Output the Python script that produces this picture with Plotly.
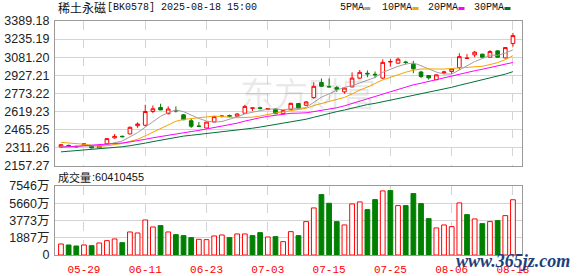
import plotly.graph_objects as go
import pandas as pd

# ---------------- data ----------------
dates = ["05-26", "05-27", "05-28", "05-29", "05-30", "06-03", "06-04", "06-05", "06-06", "06-09",
         "06-10", "06-11", "06-12", "06-13", "06-16", "06-17", "06-18", "06-19", "06-20", "06-23",
         "06-24", "06-25", "06-26", "06-27", "06-30", "07-01", "07-02", "07-03", "07-04", "07-07",
         "07-08", "07-09", "07-10", "07-11", "07-14", "07-15", "07-16", "07-17", "07-18", "07-21",
         "07-22", "07-23", "07-24", "07-25", "07-28", "07-29", "07-30", "07-31", "08-01", "08-04",
         "08-05", "08-06", "08-07", "08-08", "08-11", "08-12", "08-13", "08-14", "08-15", "08-18"]

open_ = [2317, 2330, 2322, 2337, 2326, 2309, 2343, 2394, 2408, 2428,
         2498, 2502, 2619, 2653, 2600, 2628, 2590, 2540, 2495, 2478,
         2530, 2576, 2584, 2578, 2604, 2646, 2650, 2635, 2640, 2600,
         2637, 2687, 2672, 2737, 2866, 2832, 2822, 2786, 2828, 2903,
         2944, 2936, 2903, 3040, 3030, 3040, 3022, 2955, 2925, 2889,
         2948, 2959, 2993, 3070, 3101, 3107, 3081, 3135, 3075, 3197]
high = [2341, 2336, 2326, 2349, 2330, 2333, 2392, 2427, 2412, 2492,
        2526, 2676, 2670, 2685, 2662, 2662, 2596, 2555, 2529, 2532,
        2582, 2585, 2592, 2605, 2675, 2650, 2660, 2648, 2644, 2631,
        2695, 2690, 2708, 2868, 2900, 2900, 2835, 2822, 2952, 2972,
        2968, 2959, 3063, 3064, 3078, 3050, 3050, 2965, 2928, 2933,
        2965, 2986, 3115, 3107, 3135, 3110, 3141, 3138, 3166, 3288]
low = [2313, 2320, 2312, 2331, 2304, 2305, 2340, 2388, 2400, 2425,
       2480, 2490, 2606, 2632, 2594, 2610, 2545, 2479, 2489, 2475,
       2527, 2568, 2570, 2572, 2600, 2624, 2636, 2630, 2597, 2595,
       2634, 2648, 2665, 2726, 2830, 2825, 2786, 2770, 2824, 2895,
       2911, 2903, 2897, 3001, 3026, 3020, 2945, 2903, 2890, 2886,
       2937, 2937, 2973, 3068, 3081, 3078, 3078, 3078, 3070, 3171]
close = [2336, 2326, 2318, 2343, 2309, 2330, 2388, 2407, 2404, 2484,
         2512, 2619, 2642, 2632, 2640, 2624, 2549, 2493, 2492, 2529,
         2575, 2580, 2579, 2597, 2662, 2649, 2645, 2644, 2600, 2627,
         2688, 2650, 2700, 2833, 2833, 2828, 2808, 2818, 2903, 2952,
         2939, 2931, 3037, 3044, 3064, 3036, 2982, 2917, 2905, 2931,
         2955, 2982, 3086, 3073, 3124, 3081, 3129, 3081, 3163, 3265]

# closes before the visible window (for moving-average warm-up), estimated
prior_closes = [2170, 2180, 2175, 2190, 2200, 2195, 2205, 2210, 2215, 2230,
                2240, 2250, 2245, 2260, 2270, 2265, 2280, 2290, 2300, 2320,
                2360, 2385, 2400, 2405, 2400, 2350, 2320, 2300, 2304]

# volume in 万 (10k shares); direction flag 1 = red (up), -1 = green (down)
volume = [1204, 1095, 985, 1095, 1022, 1314, 1570, 1752, 1350, 2518,
          2409, 3832, 3066, 3212, 2518, 2226, 2117, 1898, 1716, 1679,
          2080, 2190, 1898, 2300, 2300, 2117, 2445, 1971, 2008, 1460,
          2555, 2117, 3650, 5147, 6607, 5658, 3650, 3285, 5585, 5804,
          4964, 6059, 7008, 7045, 5402, 5402, 6716, 5621, 3979, 2957,
          3285, 3102, 5694, 4416, 3942, 3431, 3650, 3760, 4307, 6041]
vol_dir = [1, -1, -1, 1, -1, 1, 1, 1, -1, 1,
           1, 1, 1, -1, 1, -1, -1, -1, 1, 1,
           1, 1, -1, 1, 1, -1, -1, 1, -1, 1,
           1, -1, 1, 1, -1, -1, -1, 1, 1, 1,
           -1, -1, 1, -1, 1, -1, -1, -1, -1, 1,
           1, 1, 1, -1, 1, -1, 1, -1, 1, 1]

tick_labels = ["05-29", "06-11", "06-23", "07-03", "07-15", "07-25", "08-06", "08-18"]
price_ticks = [2157.27, 2311.26, 2465.25, 2619.23, 2773.22, 2927.21, 3081.20, 3235.19, 3389.18]
vol_ticks = [0, 1887, 3773, 5660, 7546]
vol_tick_text = ["0", "1887万", "3773万", "5660万", "7546万"]
ma_periods = [5, 10, 20, 30]
ma_names = ["5PMA", "10PMA", "20PMA", "30PMA"]
title_name = "稀土永磁"
title_rest = "[BK0578] 2025-08-18 15:00"
vol_title = "成交量"
last_volume = "60410455"

# ---------------- styles ----------------
RED = "#ff0000"
GREEN = "#008000"
ma_colors = ["#a0a0a0", "#f5a300", "#ff00ff", "#00703c"]
GRID = "#d4d4d4"
FRAME = "#9a9a9a"

W, H = 578, 276
L, R, T, B = 55, 56, 21, 21
PW, PH = W - L - R, H - T - B


def px_x(px):
    return (px - L) / PW


def px_y(py):
    return (H - B - py) / PH


x = list(range(len(dates)))
tickvals = [dates.index(t) for t in tick_labels]

all_close = pd.Series(prior_closes + close, dtype=float)
n0 = len(prior_closes)

fig = go.Figure()

for p, c in zip(ma_periods, ma_colors):
    ma = all_close.rolling(p).mean().iloc[n0:].tolist()
    fig.add_trace(go.Scatter(x=x, y=ma, mode="lines", line=dict(color=c, width=1),
                             xaxis="x", yaxis="y", hoverinfo="skip", showlegend=False))

fig.add_trace(go.Candlestick(
    x=x, open=open_, high=high, low=low, close=close,
    increasing=dict(line=dict(color=RED, width=1), fillcolor="#ffffff"),
    decreasing=dict(line=dict(color=GREEN, width=1), fillcolor=GREEN),
    whiskerwidth=0, xaxis="x", yaxis="y", showlegend=False))

fig.add_trace(go.Bar(
    x=x, y=volume, width=0.62,
    marker=dict(color=["#ffffff" if d > 0 else GREEN for d in vol_dir],
                line=dict(color=[RED if d > 0 else GREEN for d in vol_dir], width=1)),
    xaxis="x2", yaxis="y2", showlegend=False))

xr = [-0.78, len(dates) - 1 + 1.18]
main_bottom = px_y(165.7)
vol_top = px_y(186)

axis_common = dict(showline=True, mirror=True, linecolor=FRAME, linewidth=1, zeroline=False,
                   ticks="", automargin=False)

fig.update_layout(
    width=W, height=H, margin=dict(l=L, r=R, t=T, b=B, autoexpand=False),
    paper_bgcolor="white", plot_bgcolor="white",
    bargap=0.3, boxgap=0.32,
    xaxis=dict(domain=[0, 1], range=xr, anchor="y", tickvals=tickvals, showticklabels=False,
               showgrid=True, gridcolor=GRID, griddash="dash", gridwidth=1,
               rangeslider=dict(visible=False), **axis_common),
    yaxis=dict(domain=[main_bottom, 1], range=[price_ticks[0], price_ticks[-1]], anchor="x",
               tickvals=price_ticks, ticktext=[f"{v:.2f}" for v in price_ticks],
               showgrid=True, gridcolor=GRID, gridwidth=1, ticklabelstandoff=2,
               tickfont=dict(family="Liberation Sans, Arial", size=12.5, color="#222"), **axis_common),
    xaxis2=dict(domain=[0, 1], range=xr, anchor="y2", tickvals=tickvals, ticktext=tick_labels,
                showgrid=True, gridcolor=GRID, griddash="dash", gridwidth=1, ticklabelstandoff=4,
                tickfont=dict(family="Liberation Mono, monospace", size=11, color=RED), **axis_common),
    yaxis2=dict(domain=[0, vol_top], range=[vol_ticks[0], vol_ticks[-1]], anchor="x2",
                tickvals=vol_ticks, ticktext=vol_tick_text, ticklabelstandoff=2,
                showgrid=True, gridcolor=GRID, gridwidth=1,
                tickfont=dict(family="Liberation Sans, Noto Sans CJK SC", size=12.5, color="#222"), **axis_common),
)

ann = []
# title
ann.append(dict(text=title_name, x=px_x(56), y=px_y(8), xanchor="left", yanchor="middle",
                font=dict(family="Noto Sans CJK SC", size=12, color="#111")))
ann.append(dict(text=title_rest, x=px_x(105), y=px_y(8), xanchor="left", yanchor="middle",
                font=dict(family="Liberation Mono", size=10, color="#111")))
# MA legend
leg_x = [338, 380, 426, 472]
shapes = []
for lx, name, c in zip(leg_x, ma_names, ma_colors):
    ann.append(dict(text=name, x=px_x(lx), y=px_y(8), xanchor="left", yanchor="middle",
                    font=dict(family="Liberation Mono", size=10, color="#111")))
    sx = lx + 6.2 * len(name) + 1.5
    shapes.append(dict(type="rect", xref="paper", yref="paper",
                       x0=px_x(sx), x1=px_x(sx + 6), y0=px_y(10), y1=px_y(7),
                       fillcolor=c, line=dict(width=0)))
# volume title
ann.append(dict(text=vol_title, x=px_x(56), y=px_y(177), xanchor="left", yanchor="middle",
                font=dict(family="Noto Sans CJK SC", size=11, color="#111")))
ann.append(dict(text=":" + last_volume, x=px_x(90), y=px_y(177), xanchor="left", yanchor="middle",
                font=dict(family="Liberation Sans", size=11, color="#111")))
# watermarks
ann.append(dict(text="东方财富", x=px_x(308), y=px_y(92), xanchor="center", yanchor="middle",
                font=dict(family="Noto Sans CJK SC", size=34, color="rgba(120,120,120,0.16)")))
ann.append(dict(text="<b><i>www.365jz.com</i></b>", x=px_x(513), y=px_y(261), xanchor="center",
                yanchor="middle", font=dict(family="Liberation Serif", size=18, color="#1d3f7c")))

for a in ann:
    a.update(xref="paper", yref="paper", showarrow=False)
fig.update_layout(annotations=ann, shapes=shapes)

fig.write_html("out.html")
